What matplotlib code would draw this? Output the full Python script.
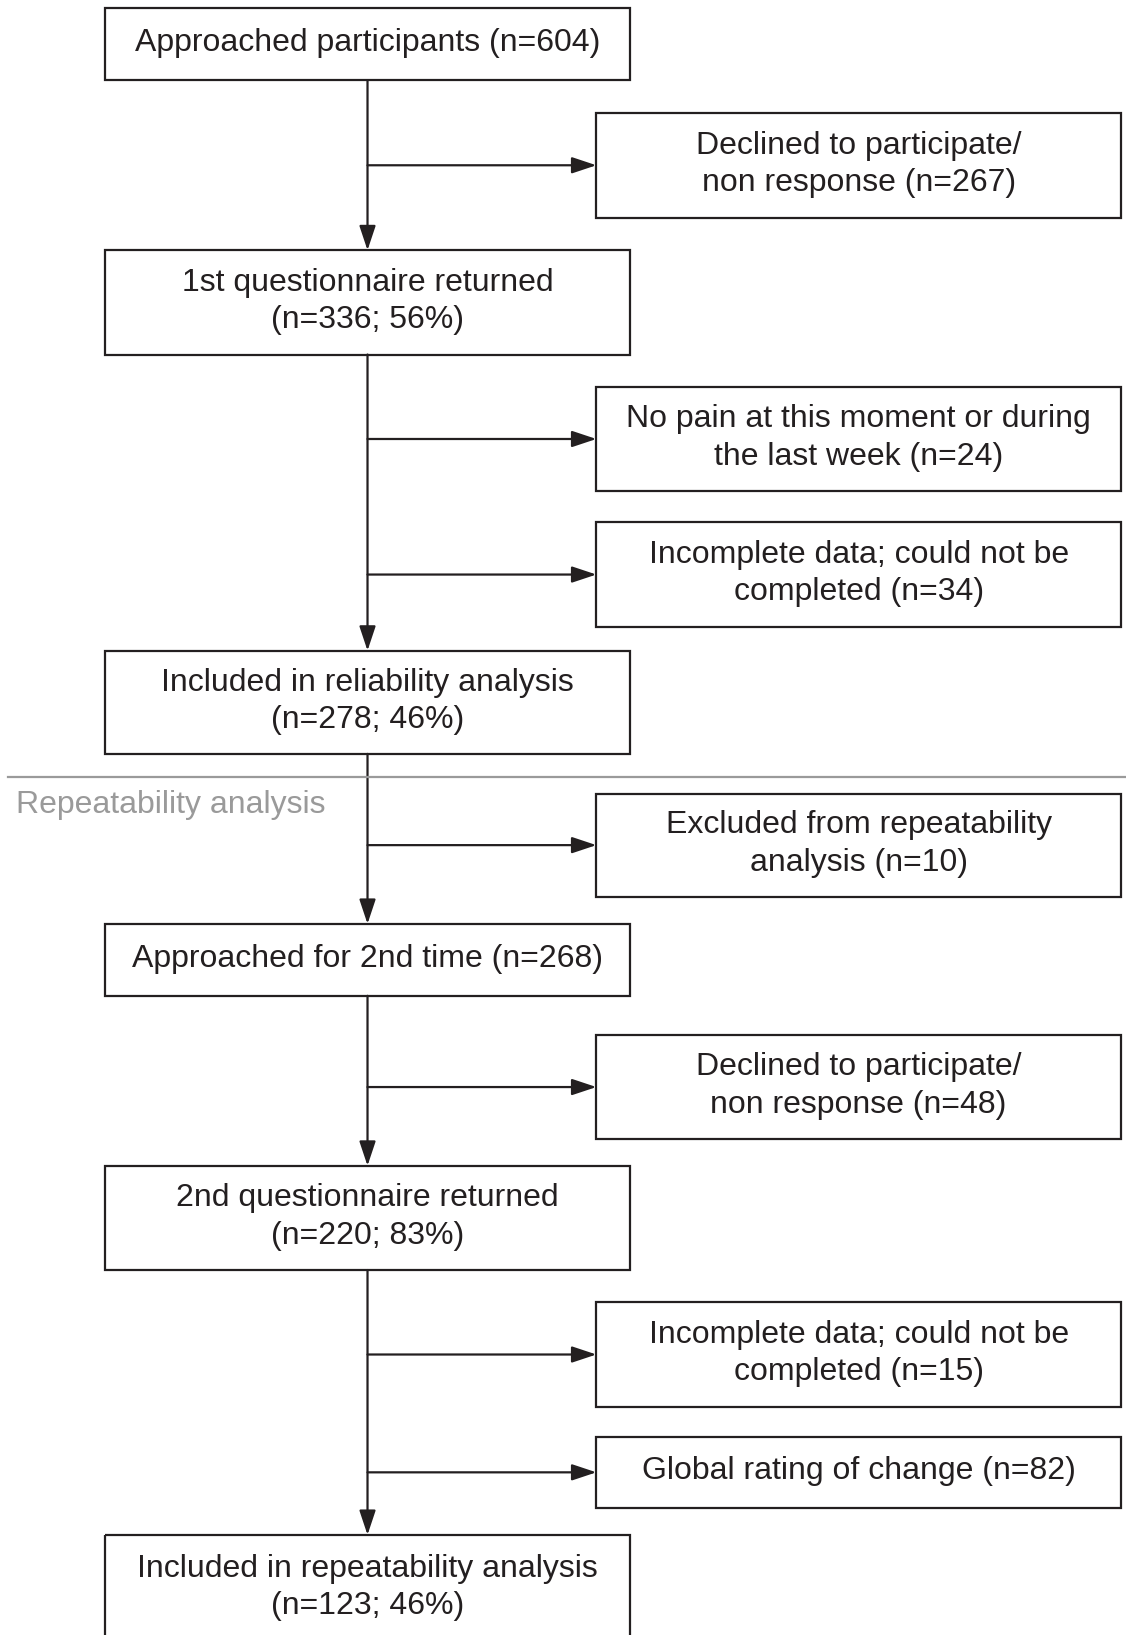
import matplotlib.pyplot as plt
from matplotlib.patches import Rectangle, FancyArrowPatch

plt.rcParams['font.family'] = ['Liberation Sans', 'DejaVu Sans']

# main column boxes (text)
main_labels = [
    "Approached participants (n=604)",
    "1st questionnaire returned\n(n=336; 56%)",
    "Included in reliability analysis\n(n=278; 46%)",
    "Approached for 2nd time (n=268)",
    "2nd questionnaire returned\n(n=220; 83%)",
    "Included in repeatability analysis\n(n=123; 46%)",
]
# side (excluded) boxes (text)
side_labels = [
    "Declined to participate/\nnon response (n=267)",
    "No pain at this moment or during\nthe last week (n=24)",
    "Incomplete data; could not be\ncompleted (n=34)",
    "Excluded from repeatability\nanalysis (n=10)",
    "Declined to participate/\nnon response (n=48)",
    "Incomplete data; could not be\ncompleted (n=15)",
    "Global rating of change (n=82)",
]
section_label = "Repeatability analysis"

# layout (pixels of a 1080 x 1568 canvas)
main_x = (101, 604)
side_x = (572, 1075)
main_y = [(8, 77), (240, 340), (624, 723), (886, 955), (1118, 1218), (1472, 1575)]
side_y = [(108, 209), (371, 471), (501, 601), (761, 860), (993, 1092), (1249, 1349), (1378, 1446)]
sep_y = 745

ink = '#231f20'
grey = '#9a9a9a'
fs = 23

fig = plt.figure(figsize=(11.26, 16.35), dpi=100)
ax = fig.add_axes([0, 0, 1, 1])
ax.set_xlim(0, 1080)
ax.set_ylim(1568, 0)
ax.axis('off')


def box(x0, x1, y0, y1, text):
    ax.add_patch(Rectangle((x0, y0), x1 - x0, y1 - y0, fill=False,
                           edgecolor=ink, linewidth=1.6))
    ax.text((x0 + x1) / 2, (y0 + y1) / 2 - 1, text, ha='center', va='center',
            fontsize=fs, color=ink, linespacing=1.32)


def arrow(p0, p1):
    ax.add_patch(FancyArrowPatch(p0, p1, arrowstyle='-|>,head_length=0.75,head_width=0.25',
                                 mutation_scale=20, color=ink, linewidth=1.6,
                                 shrinkA=0, shrinkB=0))


for (y0, y1), t in zip(main_y, main_labels):
    box(main_x[0], main_x[1], y0, y1, t)
for (y0, y1), t in zip(side_y, side_labels):
    box(side_x[0], side_x[1], y0, y1, t)

cx = (main_x[0] + main_x[1]) / 2
# vertical arrows between main boxes
for (a0, a1), (b0, b1) in zip(main_y[:-1], main_y[1:]):
    arrow((cx, a1), (cx, b0))
# horizontal arrows to side boxes
for y0, y1 in side_y:
    arrow((cx, (y0 + y1) / 2), (side_x[0], (y0 + y1) / 2))

ax.plot([8, 1080], [sep_y, sep_y], color=grey, linewidth=1.6)
ax.text(15, 772, section_label, ha='left', va='center', fontsize=fs, color=grey)

fig.savefig('out.png', dpi=100)
